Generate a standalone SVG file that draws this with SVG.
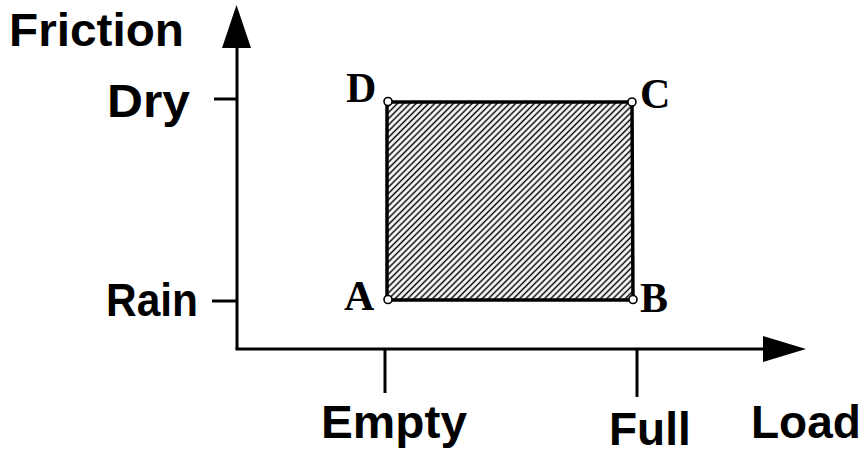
<svg xmlns="http://www.w3.org/2000/svg" width="867" height="454" viewBox="0 0 867 454">
<style>
.lbl{font-family:"Liberation Sans",Arial,sans-serif;font-weight:bold;font-size:46px;fill:#000}
.pt{font-family:"Liberation Serif","Times New Roman",serif;font-weight:bold;font-size:42px;fill:#000}
.ax{stroke:#000;stroke-width:3;fill:none}
.dot{fill:#fff;stroke:#000;stroke-width:1.6}
</style>
<defs>
<pattern id="hatch" patternUnits="userSpaceOnUse" width="4.4" height="10" patternTransform="rotate(45)">
<line x1="2.2" y1="0" x2="2.2" y2="10" stroke="#000" stroke-width="1.5"/>
</pattern>
</defs>
<rect width="867" height="454" fill="#fff"/>
<g id="axes">
<line class="ax" x1="237" y1="349" x2="237" y2="40"/>
<polygon points="236.5,5 222,48 251,48" fill="#000"/>
<line class="ax" x1="235.5" y1="349" x2="770" y2="349"/>
<polygon points="806,349 763,336 763,362" fill="#000"/>
<line class="ax" x1="214" y1="99" x2="237" y2="99"/>
<line class="ax" x1="212" y1="301" x2="237" y2="301"/>
<line class="ax" x1="385" y1="349" x2="385" y2="393"/>
<line class="ax" x1="637" y1="349" x2="637" y2="397"/>
</g>
<g id="axis-labels">
<text class="lbl" x="9" y="46" textLength="175" lengthAdjust="spacingAndGlyphs">Friction</text>
<text class="lbl" x="107" y="117" textLength="83" lengthAdjust="spacingAndGlyphs">Dry</text>
<text class="lbl" x="106" y="316" textLength="92" lengthAdjust="spacingAndGlyphs">Rain</text>
<text class="lbl" x="321" y="438" textLength="146" lengthAdjust="spacingAndGlyphs">Empty</text>
<text class="lbl" x="609" y="445">Full</text>
<text class="lbl" x="751" y="438">Load</text>
</g>
<g id="region">
<polygon points="387,102 632,102 633,300 387,300" fill="url(#hatch)" stroke="#000" stroke-width="3.5"/>
</g>
<g id="A"><circle class="dot" cx="388" cy="299.5" r="4"/><text class="pt" x="344" y="310">A</text></g>
<g id="B"><circle class="dot" cx="633" cy="299.5" r="4"/><text class="pt" x="640" y="312">B</text></g>
<g id="C"><circle class="dot" cx="632" cy="102" r="4"/><text class="pt" x="640" y="108">C</text></g>
<g id="D"><circle class="dot" cx="388" cy="101.5" r="4"/><text class="pt" x="346" y="102">D</text></g>
</svg>
